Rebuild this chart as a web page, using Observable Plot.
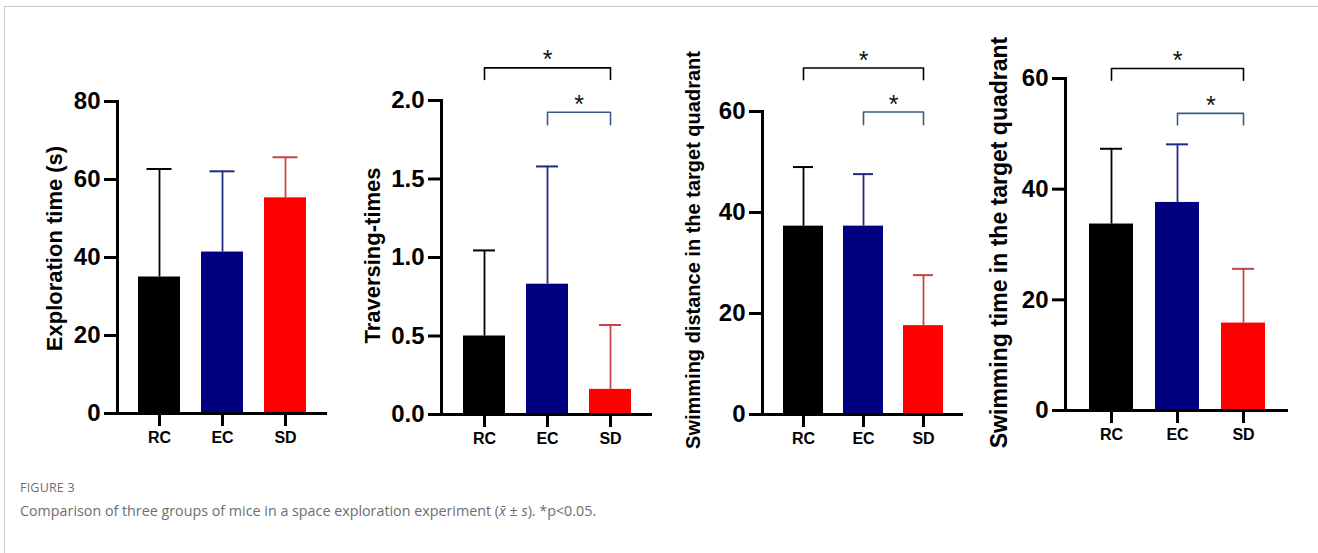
<!DOCTYPE html>
<html>
<head>
<meta charset="utf-8">
<script src="https://cdn.jsdelivr.net/npm/d3@7"></script>
<script src="https://cdn.jsdelivr.net/npm/@observablehq/plot@0.6"></script>
<style>
  html, body { margin: 0; padding: 0; background: #fff; }
  #page { position: relative; width: 1318px; height: 553px; overflow: hidden; background: #fff;
          font-family: "Liberation Sans", Arial, sans-serif; }
  #frameline { position: absolute; left: 4px; top: 6px; width: 1330px; height: 560px;
               border-top: 1px solid #c8c8c8; border-left: 1px solid #c8c8c8; }
  .panel { position: absolute; top: 0; }
  .panel svg { overflow: visible; max-width: none; }
  #figlabel { position: absolute; left: 20px; top: 479px; font-family: "Open Sans", "Noto Sans", sans-serif;
              font-size: 12.5px; color: #6e6e6e; letter-spacing: 0.2px; }
  #caption { position: absolute; left: 20px; top: 501px; font-family: "Open Sans", "Noto Sans", sans-serif;
             font-size: 14.3px; color: #6e6e6e; }
</style>
</head>
<body>
<div id="page">
  <div id="frameline"></div>
  <div id="p1" class="panel"></div>
  <div id="p2" class="panel"></div>
  <div id="p3" class="panel"></div>
  <div id="p4" class="panel"></div>
  <div id="figlabel">FIGURE 3</div>
  <div id="caption">Comparison of three groups of mice in a space exploration experiment (<i>x̄</i> ± <i>s</i>). *p&lt;0.05.</div>
</div>
<script>
// ---------- data ----------
const groups = ["RC", "EC", "SD"];
const barColors = ["#000000", "#000080", "#ff0000"];
const errorColors = ["#000000", "#1f2b80", "#c84444"];

const explorationMean = [35.0, 41.4, 55.3];
const explorationSD   = [27.7, 20.7, 10.4];
const explorationTicks = [0, 20, 40, 60, 80];

const traversingMean = [0.50, 0.83, 0.16];
const traversingSD   = [0.545, 0.75, 0.41];
const traversingTicks = [0, 0.5, 1.0, 1.5, 2.0];

const distanceMean = [37.3, 37.3, 17.6];
const distanceSD   = [11.7, 10.3, 10.0];
const distanceTicks = [0, 20, 40, 60];

const timeMean = [33.7, 37.6, 15.8];
const timeSD   = [13.6, 10.5, 9.8];
const timeTicks = [0, 20, 40, 60];

// significance brackets: [from, to, level, leg end] in data units
const traversingBrackets = [["RC", "SD", 2.208, 2.134, "#000000"], ["EC", "SD", 1.925, 1.845, "#3d5a8a"]];
const distanceBrackets   = [["RC", "SD", 68.6, 66.3, "#000000"], ["EC", "SD", 59.9, 57.4, "#3d5a8a"]];
const timeBrackets       = [["RC", "SD", 61.8, 59.7, "#000000"], ["EC", "SD", 53.7, 51.6, "#3d5a8a"]];

// ---------- drawing ----------
function panel(opts) {
  const {el, left, width, height, marginLeft, marginRight, marginTop, marginBottom,
         means, sds, ticks, domainMax, tickFormat, label, labelDx, labelDy, labelSize,
         brackets, capInset} = opts;
  const rows = groups.map((g, i) => ({group: g, mean: means[i], sd: sds[i], fill: barColors[i], err: errorColors[i]}));
  const frameW = width - marginLeft - marginRight;
  const step = frameW / (groups.length + 1/3);
  const marks = [
    Plot.barY(rows, {x: "group", y: "mean", fill: "fill"}),
    Plot.ruleX(rows, {x: "group", y1: "mean", y2: d => d.mean + d.sd, stroke: "err", strokeWidth: 1.8}),
    Plot.tickY(rows, {x: "group", y: d => d.mean + d.sd, stroke: "err", strokeWidth: 2, insetLeft: capInset, insetRight: capInset}),
    Plot.ruleY([0], {strokeWidth: 3, stroke: "#000"}),
    Plot.frame({anchor: "left", strokeWidth: 3, stroke: "#000"}),
    Plot.axisY({ticks, tickSize: 13, tickPadding: 4, strokeWidth: 3, fontSize: 24, fontWeight: "bold",
                tickFormat, label: null, fill: "#000"}),
    Plot.axisX({tickSize: 13, tickPadding: 5, strokeWidth: 3, fontSize: 16, fontWeight: "bold", label: null, fill: "#000"}),
    Plot.text([label], {text: d => d, frameAnchor: "left", rotate: -90, dx: labelDx, dy: labelDy,
                        fontSize: labelSize, fontWeight: "bold", textAnchor: "middle", lineAnchor: "middle", fill: "#000"})
  ];
  if (brackets) {
    brackets.forEach(([from, to, level, leg, color]) => {
      const pts = [{x: from, y: leg}, {x: from, y: level}, {x: to, y: level}, {x: to, y: leg}];
      marks.push(Plot.line(pts, {x: "x", y: "y", stroke: color, strokeWidth: 1.6}));
      const fi = groups.indexOf(from), ti = groups.indexOf(to);
      const midIdx = Math.floor((fi + ti) / 2);
      const half = ((fi + ti) / 2 - midIdx) * step;
      marks.push(Plot.text([{g: groups[midIdx], y: level, s: "*"}],
                           {x: "g", y: "y", text: "s", dx: half, dy: 0.5,
                            lineAnchor: "bottom", fontSize: 25, fill: "#111"}));
    });
  }
  const chart = Plot.plot({
    width, height, marginLeft, marginRight, marginTop, marginBottom,
    style: {fontFamily: "'Liberation Sans', Arial, sans-serif", overflow: "visible"},
    x: {domain: groups, padding: 1/3, axis: null},
    y: {domain: [0, domainMax], axis: null},
    color: {type: "identity"},
    marks
  });
  const div = document.getElementById(el);
  div.style.left = left + "px";
  div.style.width = width + "px";
  div.appendChild(chart);
}

panel({el: "p1", left: 10, width: 330, height: 470, marginLeft: 107, marginRight: 13, marginTop: 101, marginBottom: 57,
       means: explorationMean, sds: explorationSD, ticks: explorationTicks, domainMax: 80, tickFormat: d3.format("d"),
       label: "Exploration time (s)", labelDx: -63, labelDy: -9, labelSize: 22, capInset: 8.5});
panel({el: "p2", left: 340, width: 325, height: 470, marginLeft: 101, marginRight: 13, marginTop: 100, marginBottom: 56,
       means: traversingMean, sds: traversingSD, ticks: traversingTicks, domainMax: 2, tickFormat: d3.format(".1f"),
       label: "Traversing-times", labelDx: -69, labelDy: -2, labelSize: 22, brackets: traversingBrackets, capInset: 10});
panel({el: "p3", left: 665, width: 310, height: 470, marginLeft: 97, marginRight: 12, marginTop: 111, marginBottom: 56,
       means: distanceMean, sds: distanceSD, ticks: distanceTicks, domainMax: 60, tickFormat: d3.format("d"),
       label: "Swimming distance in the target quadrant", labelDx: -69, labelDy: -13, labelSize: 20, brackets: distanceBrackets, capInset: 10});
panel({el: "p4", left: 975, width: 335, height: 470, marginLeft: 90, marginRight: 22, marginTop: 78, marginBottom: 60,
       means: timeMean, sds: timeSD, ticks: timeTicks, domainMax: 60, tickFormat: d3.format("d"),
       label: "Swimming time in the target quadrant", labelDx: -66, labelDy: -2, labelSize: 23, brackets: timeBrackets, capInset: 11});
</script>
</body>
</html>
